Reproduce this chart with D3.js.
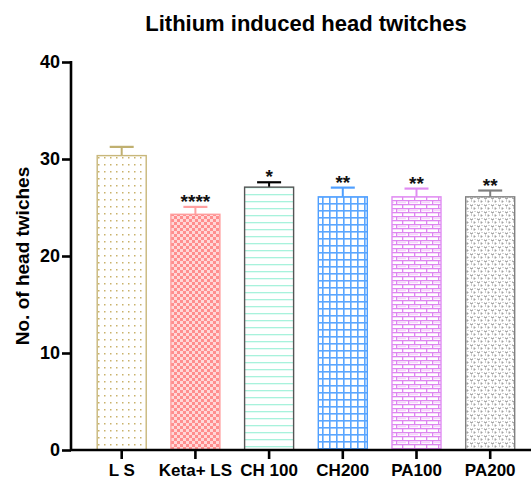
<!DOCTYPE html>
<html><head><meta charset="utf-8">
<script src="https://cdn.jsdelivr.net/npm/d3@7"></script>
<style>body{margin:0;background:#fff}svg{display:block}text{font-family:"Liberation Sans",Arial,sans-serif;font-weight:bold}</style>
</head><body>
<svg id="c" width="531" height="481"></svg>
<script>
const categories = ["L S", "Keta+ LS", "CH 100", "CH200", "PA100", "PA200"];
const means = [30.35, 24.3, 27.1, 26.1, 26.1, 26.1];
const sem = [0.9, 0.76, 0.5, 0.95, 0.85, 0.65];
const stars = ["", "****", "*", "**", "**", "**"];
const yTicks = [0, 10, 20, 30, 40];
const title = "Lithium induced head twitches";
const yLabel = "No. of head twiches";

const strokeCols = ["#c8b77a", "#ff9d9d", "#555555", "#4f9fff", "#e08cf2", "#808080"];
const errCols = ["#c0b070", "#ffa0a0", "#000000", "#4f9fff", "#e08cf2", "#808080"];

const svg = d3.select("#c");
const defs = svg.append("defs");
function pat(id, w, h, draw) {
  const p = defs.append("pattern").attr("id", id).attr("patternUnits", "userSpaceOnUse")
    .attr("width", w).attr("height", h);
  p.append("rect").attr("width", w).attr("height", h).attr("fill", "#fff");
  draw(p);
}
pat("p0", 6, 7, p => {
  p.append("rect").attr("x", 2).attr("y", 3).attr("width", 1.5).attr("height", 1.5).attr("fill", "#c9b26a");
});
pat("p1", 6, 6, p => {
  p.append("rect").attr("width", 6).attr("height", 6).attr("fill", "#ffd8d8");
  p.append("rect").attr("x", 0).attr("y", 0).attr("width", 3).attr("height", 3).attr("fill", "#ff8e8e");
  p.append("rect").attr("x", 3).attr("y", 3).attr("width", 3).attr("height", 3).attr("fill", "#ff8e8e");
});
pat("p2", 8, 7, p => {
  p.append("rect").attr("x", 0).attr("y", 5).attr("width", 8).attr("height", 1.3).attr("fill", "#a8f2dc");
});
pat("p3", 7, 7, p => {
  p.append("rect").attr("x", 0).attr("y", 0).attr("width", 7).attr("height", 1.6).attr("fill", "#5aa6ff");
  p.append("rect").attr("x", 0).attr("y", 0).attr("width", 1.6).attr("height", 7).attr("fill", "#5aa6ff");
});
pat("p4", 12, 8, p => {
  p.append("rect").attr("width", 12).attr("height", 1.3).attr("fill", "#de86f0");
  p.append("rect").attr("y", 4).attr("width", 12).attr("height", 1.3).attr("fill", "#de86f0");
  p.append("rect").attr("x", 0).attr("y", 0).attr("width", 1.3).attr("height", 4).attr("fill", "#de86f0");
  p.append("rect").attr("x", 6).attr("y", 4).attr("width", 1.3).attr("height", 4).attr("fill", "#de86f0");
  p.append("rect").attr("x", 2).attr("y", 1.8).attr("width", 8).attr("height", 1.4).attr("fill", "#f5d5fa");
});
pat("p5", 7, 7, p => {
  p.append("path").attr("d", "M1,2 h1 v1 h1 v-1 h1 M4.5,5 h1.5 v1 h-1.5").attr("stroke", "#888").attr("stroke-width", 0.8).attr("fill", "none");
  p.append("rect").attr("x", 2).attr("y", 4.5).attr("width", 1).attr("height", 1).attr("fill", "#999");
  p.append("rect").attr("x", 5.5).attr("y", 1).attr("width", 1).attr("height", 1).attr("fill", "#aaa");
});

const x = d3.scaleBand().domain(categories).range([84.85, 527.05]).paddingInner(0.335).paddingOuter(0.1675);
const y = d3.scaleLinear().domain([0, 40]).range([450, 62]);

const g = svg.append("g");
categories.forEach((c, i) => {
  const x0 = x(c), bw = x.bandwidth(), cx = x0 + bw / 2;
  g.append("line").attr("x1", cx).attr("x2", cx).attr("y1", y(means[i])).attr("y2", y(means[i] + sem[i]))
    .attr("stroke", errCols[i]).attr("stroke-width", 2);
  g.append("line").attr("x1", cx - 12).attr("x2", cx + 12).attr("y1", y(means[i] + sem[i])).attr("y2", y(means[i] + sem[i]))
    .attr("stroke", errCols[i]).attr("stroke-width", 2.2);
  g.append("rect").attr("x", x0).attr("y", y(means[i])).attr("width", bw).attr("height", y(0) - y(means[i]))
    .attr("fill", `url(#p${i})`).attr("stroke", strokeCols[i]).attr("stroke-width", 1.4);
  if (stars[i]) {
    g.append("text").attr("x", cx).attr("y", y(means[i] + sem[i]) + 1).attr("text-anchor", "middle")
      .attr("font-size", 19).attr("fill", "#111").text(stars[i]);
  }
});

const yAxis = svg.append("g").attr("transform", "translate(71,0)")
  .call(d3.axisLeft(y).tickValues(yTicks).tickSize(9).tickPadding(2));
yAxis.select(".domain").attr("stroke", "#000").attr("stroke-width", 2.6).attr("d", "M0,450V61");
yAxis.selectAll(".tick line").attr("stroke", "#000").attr("stroke-width", 2.6);
yAxis.selectAll(".tick text").attr("font-size", 18).attr("fill", "#000")
  .style("font-family", '"Liberation Sans",Arial,sans-serif').style("font-weight", "bold");

const xAxis = svg.append("g").attr("transform", "translate(0,450)")
  .call(d3.axisBottom(x).tickSize(9).tickPadding(5));
xAxis.select(".domain").attr("stroke", "#000").attr("stroke-width", 2.6).attr("d", "M70,0H531");
xAxis.selectAll(".tick line").attr("stroke", "#000").attr("stroke-width", 2.6);
xAxis.selectAll(".tick text").attr("font-size", 17).attr("fill", "#000")
  .style("font-family", '"Liberation Sans",Arial,sans-serif').style("font-weight", "bold");

svg.append("text").attr("x", 306).attr("y", 31).attr("text-anchor", "middle").attr("font-size", 22).text(title);
svg.append("text").attr("transform", "translate(29,256) rotate(-90)").attr("text-anchor", "middle")
  .attr("font-size", 19).text(yLabel);
</script>
</body></html>
